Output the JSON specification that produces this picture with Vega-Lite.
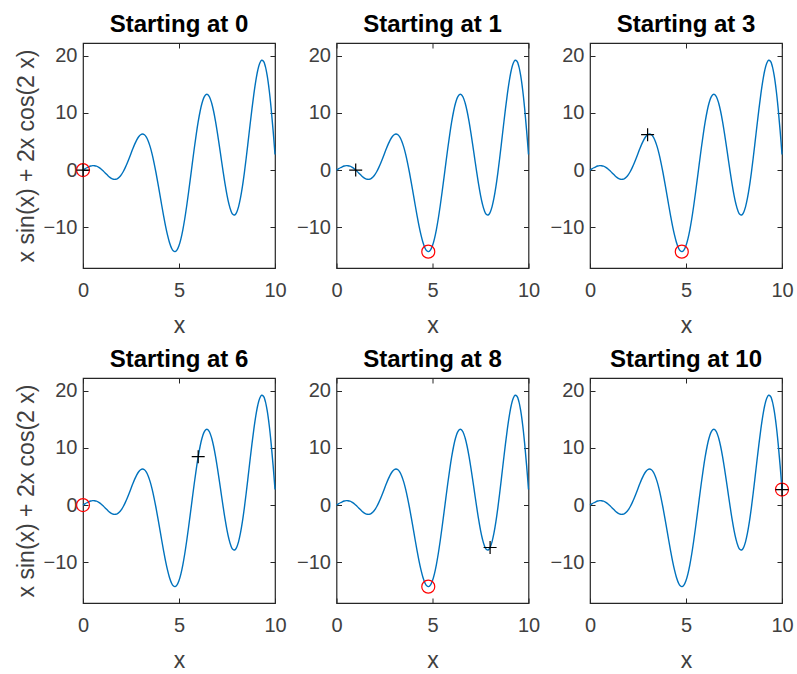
{
  "$schema": "https://vega.github.io/schema/vega-lite/v6.json",
  "padding": {"left": 14, "top": 11, "right": 5, "bottom": 5},
  "background": "white",
  "datasets": {
    "curve": [
      {"x":0,"y":0},{"x":0.1,"y":0.21},{"x":0.2,"y":0.41},{"x":0.3,"y":0.58},{"x":0.4,"y":0.71},{"x":0.5,"y":0.78},{"x":0.6,"y":0.77},{"x":0.7,"y":0.69},{"x":0.8,"y":0.53},{"x":0.9,"y":0.30},
      {"x":1.0,"y":0.01},{"x":1.1,"y":-0.31},{"x":1.2,"y":-0.65},{"x":1.3,"y":-0.98},{"x":1.4,"y":-1.26},{"x":1.5,"y":-1.47},{"x":1.6,"y":-1.60},{"x":1.7,"y":-1.60},{"x":1.8,"y":-1.48},{"x":1.9,"y":-1.21},
      {"x":2.0,"y":-0.80},{"x":2.1,"y":-0.25},{"x":2.2,"y":0.43},{"x":2.3,"y":1.20},{"x":2.4,"y":2.04},{"x":2.5,"y":2.91},{"x":2.6,"y":3.78},{"x":2.7,"y":4.58},{"x":2.8,"y":5.28},{"x":2.9,"y":5.83},
      {"x":3.0,"y":6.18},{"x":3.1,"y":6.31},{"x":3.2,"y":6.17},{"x":3.3,"y":5.75},{"x":3.4,"y":5.04},{"x":3.5,"y":4.05},{"x":3.6,"y":2.79},{"x":3.7,"y":1.28},{"x":3.8,"y":-0.42},{"x":3.9,"y":-2.26},
      {"x":4.0,"y":-4.19},{"x":4.1,"y":-6.14},{"x":4.2,"y":-8.02},{"x":4.3,"y":-9.78},{"x":4.4,"y":-11.32},{"x":4.5,"y":-12.60},{"x":4.6,"y":-13.54},{"x":4.7,"y":-14.10},{"x":4.8,"y":-14.23},{"x":4.9,"y":-13.93},
      {"x":5.0,"y":-13.19},{"x":5.1,"y":-12.01},{"x":5.2,"y":-10.43},{"x":5.3,"y":-8.50},{"x":5.4,"y":-6.27},{"x":5.5,"y":-3.83},{"x":5.6,"y":-1.26},{"x":5.7,"y":1.35},{"x":5.8,"y":3.90},{"x":5.9,"y":6.30},
      {"x":6.0,"y":8.45},{"x":6.1,"y":10.28},{"x":6.2,"y":11.71},{"x":6.3,"y":12.70},{"x":6.4,"y":13.20},{"x":6.5,"y":13.20},{"x":6.6,"y":12.69},{"x":6.7,"y":11.72},{"x":6.8,"y":10.32},{"x":6.9,"y":8.56},
      {"x":7.0,"y":6.51},{"x":7.1,"y":4.28},{"x":7.2,"y":1.97},{"x":7.3,"y":-0.31},{"x":7.4,"y":-2.46},{"x":7.5,"y":-4.36},{"x":7.6,"y":-5.92},{"x":7.7,"y":-7.07},{"x":7.8,"y":-7.72},{"x":7.9,"y":-7.84},
      {"x":8.0,"y":-7.41},{"x":8.1,"y":-6.42},{"x":8.2,"y":-4.91},{"x":8.3,"y":-2.93},{"x":8.4,"y":-0.56},{"x":8.5,"y":2.11},{"x":8.6,"y":4.96},{"x":8.7,"y":7.87},{"x":8.8,"y":10.70},{"x":8.9,"y":13.32},
      {"x":9.0,"y":15.59},{"x":9.1,"y":17.40},{"x":9.2,"y":18.62},{"x":9.3,"y":19.18},{"x":9.4,"y":19.01},{"x":9.5,"y":18.07},{"x":9.6,"y":16.36},{"x":9.7,"y":13.90},{"x":9.8,"y":10.74},{"x":9.9,"y":6.98},
      {"x":10.0,"y":2.72}
    ]
  },
  "columns": 3,
  "spacing": {"row": 110, "column": 61.5},
  "bounds": "flush",
  "concat": [
    {
      "width": 192, "height": 225,
      "title": {"text": "Starting at 0"},
      "layer": [
        {"data": {"name": "curve"}, "mark": {"type": "line", "color": "#0072BD", "strokeWidth": 1.4, "interpolate": "catmull-rom"},
         "encoding": {"x": {"field": "x", "type": "quantitative", "scale": {"domain": [0, 10], "nice": false, "zero": false}, "axis": {"orient": "bottom", "values": [0, 5, 10], "title": "x"}},
                      "y": {"field": "y", "type": "quantitative", "scale": {"domain": [-17.1, 22.2], "nice": false, "zero": false}, "axis": {"orient": "left", "values": [-10, 0, 10, 20], "title": "x sin(x) + 2x cos(2 x)"}}}},
        {"data": {"values": [{"x": 0, "y": 0}]}, "mark": {"type": "point", "shape": "circle", "size": 169, "color": "#FF0000", "strokeWidth": 1.2, "filled": false, "opacity": 1},
         "encoding": {"x": {"field": "x", "type": "quantitative", "scale": {"domain": [0, 10], "nice": false, "zero": false}, "axis": {"orient": "top", "values": [0, 5, 10], "labels": false, "title": null}},
                      "y": {"field": "y", "type": "quantitative", "scale": {"domain": [-17.1, 22.2], "nice": false, "zero": false}, "axis": {"orient": "right", "values": [-10, 0, 10, 20], "labels": false, "title": null}}}},
        {"data": {"values": [{"x": 0, "y": 0}]}, "mark": {"type": "point", "shape": "M-1,0L1,0M0,-1L0,1", "size": 169, "color": "#000000", "strokeWidth": 1.2, "filled": false, "opacity": 1},
         "encoding": {"x": {"field": "x", "type": "quantitative", "scale": {"domain": [0, 10], "nice": false, "zero": false}, "axis": null},
                      "y": {"field": "y", "type": "quantitative", "scale": {"domain": [-17.1, 22.2], "nice": false, "zero": false}, "axis": null}}}
      ],
      "resolve": {"axis": {"x": "independent", "y": "independent"}}
    },
    {
      "width": 192, "height": 225,
      "title": {"text": "Starting at 1"},
      "layer": [
        {"data": {"name": "curve"}, "mark": {"type": "line", "color": "#0072BD", "strokeWidth": 1.4, "interpolate": "catmull-rom"},
         "encoding": {"x": {"field": "x", "type": "quantitative", "scale": {"domain": [0, 10], "nice": false, "zero": false}, "axis": {"orient": "bottom", "values": [0, 5, 10], "title": "x"}},
                      "y": {"field": "y", "type": "quantitative", "scale": {"domain": [-17.1, 22.2], "nice": false, "zero": false}, "axis": {"orient": "left", "values": [-10, 0, 10, 20], "title": null}}}},
        {"data": {"values": [{"x": 4.78, "y": -14.24}]}, "mark": {"type": "point", "shape": "circle", "size": 169, "color": "#FF0000", "strokeWidth": 1.2, "filled": false, "opacity": 1},
         "encoding": {"x": {"field": "x", "type": "quantitative", "scale": {"domain": [0, 10], "nice": false, "zero": false}, "axis": {"orient": "top", "values": [0, 5, 10], "labels": false, "title": null}},
                      "y": {"field": "y", "type": "quantitative", "scale": {"domain": [-17.1, 22.2], "nice": false, "zero": false}, "axis": {"orient": "right", "values": [-10, 0, 10, 20], "labels": false, "title": null}}}},
        {"data": {"values": [{"x": 1, "y": 0.01}]}, "mark": {"type": "point", "shape": "M-1,0L1,0M0,-1L0,1", "size": 169, "color": "#000000", "strokeWidth": 1.2, "filled": false, "opacity": 1},
         "encoding": {"x": {"field": "x", "type": "quantitative", "scale": {"domain": [0, 10], "nice": false, "zero": false}, "axis": null},
                      "y": {"field": "y", "type": "quantitative", "scale": {"domain": [-17.1, 22.2], "nice": false, "zero": false}, "axis": null}}}
      ],
      "resolve": {"axis": {"x": "independent", "y": "independent"}}
    },
    {
      "width": 192, "height": 225,
      "title": {"text": "Starting at 3"},
      "layer": [
        {"data": {"name": "curve"}, "mark": {"type": "line", "color": "#0072BD", "strokeWidth": 1.4, "interpolate": "catmull-rom"},
         "encoding": {"x": {"field": "x", "type": "quantitative", "scale": {"domain": [0, 10], "nice": false, "zero": false}, "axis": {"orient": "bottom", "values": [0, 5, 10], "title": "x"}},
                      "y": {"field": "y", "type": "quantitative", "scale": {"domain": [-17.1, 22.2], "nice": false, "zero": false}, "axis": {"orient": "left", "values": [-10, 0, 10, 20], "title": null}}}},
        {"data": {"values": [{"x": 4.78, "y": -14.24}]}, "mark": {"type": "point", "shape": "circle", "size": 169, "color": "#FF0000", "strokeWidth": 1.2, "filled": false, "opacity": 1},
         "encoding": {"x": {"field": "x", "type": "quantitative", "scale": {"domain": [0, 10], "nice": false, "zero": false}, "axis": {"orient": "top", "values": [0, 5, 10], "labels": false, "title": null}},
                      "y": {"field": "y", "type": "quantitative", "scale": {"domain": [-17.1, 22.2], "nice": false, "zero": false}, "axis": {"orient": "right", "values": [-10, 0, 10, 20], "labels": false, "title": null}}}},
        {"data": {"values": [{"x": 3, "y": 6.18}]}, "mark": {"type": "point", "shape": "M-1,0L1,0M0,-1L0,1", "size": 169, "color": "#000000", "strokeWidth": 1.2, "filled": false, "opacity": 1},
         "encoding": {"x": {"field": "x", "type": "quantitative", "scale": {"domain": [0, 10], "nice": false, "zero": false}, "axis": null},
                      "y": {"field": "y", "type": "quantitative", "scale": {"domain": [-17.1, 22.2], "nice": false, "zero": false}, "axis": null}}}
      ],
      "resolve": {"axis": {"x": "independent", "y": "independent"}}
    },
    {
      "width": 192, "height": 225,
      "title": {"text": "Starting at 6"},
      "layer": [
        {"data": {"name": "curve"}, "mark": {"type": "line", "color": "#0072BD", "strokeWidth": 1.4, "interpolate": "catmull-rom"},
         "encoding": {"x": {"field": "x", "type": "quantitative", "scale": {"domain": [0, 10], "nice": false, "zero": false}, "axis": {"orient": "bottom", "values": [0, 5, 10], "title": "x"}},
                      "y": {"field": "y", "type": "quantitative", "scale": {"domain": [-17.1, 22.2], "nice": false, "zero": false}, "axis": {"orient": "left", "values": [-10, 0, 10, 20], "title": "x sin(x) + 2x cos(2 x)"}}}},
        {"data": {"values": [{"x": 0, "y": 0}]}, "mark": {"type": "point", "shape": "circle", "size": 169, "color": "#FF0000", "strokeWidth": 1.2, "filled": false, "opacity": 1},
         "encoding": {"x": {"field": "x", "type": "quantitative", "scale": {"domain": [0, 10], "nice": false, "zero": false}, "axis": {"orient": "top", "values": [0, 5, 10], "labels": false, "title": null}},
                      "y": {"field": "y", "type": "quantitative", "scale": {"domain": [-17.1, 22.2], "nice": false, "zero": false}, "axis": {"orient": "right", "values": [-10, 0, 10, 20], "labels": false, "title": null}}}},
        {"data": {"values": [{"x": 6, "y": 8.45}]}, "mark": {"type": "point", "shape": "M-1,0L1,0M0,-1L0,1", "size": 169, "color": "#000000", "strokeWidth": 1.2, "filled": false, "opacity": 1},
         "encoding": {"x": {"field": "x", "type": "quantitative", "scale": {"domain": [0, 10], "nice": false, "zero": false}, "axis": null},
                      "y": {"field": "y", "type": "quantitative", "scale": {"domain": [-17.1, 22.2], "nice": false, "zero": false}, "axis": null}}}
      ],
      "resolve": {"axis": {"x": "independent", "y": "independent"}}
    },
    {
      "width": 192, "height": 225,
      "title": {"text": "Starting at 8"},
      "layer": [
        {"data": {"name": "curve"}, "mark": {"type": "line", "color": "#0072BD", "strokeWidth": 1.4, "interpolate": "catmull-rom"},
         "encoding": {"x": {"field": "x", "type": "quantitative", "scale": {"domain": [0, 10], "nice": false, "zero": false}, "axis": {"orient": "bottom", "values": [0, 5, 10], "title": "x"}},
                      "y": {"field": "y", "type": "quantitative", "scale": {"domain": [-17.1, 22.2], "nice": false, "zero": false}, "axis": {"orient": "left", "values": [-10, 0, 10, 20], "title": null}}}},
        {"data": {"values": [{"x": 4.78, "y": -14.24}]}, "mark": {"type": "point", "shape": "circle", "size": 169, "color": "#FF0000", "strokeWidth": 1.2, "filled": false, "opacity": 1},
         "encoding": {"x": {"field": "x", "type": "quantitative", "scale": {"domain": [0, 10], "nice": false, "zero": false}, "axis": {"orient": "top", "values": [0, 5, 10], "labels": false, "title": null}},
                      "y": {"field": "y", "type": "quantitative", "scale": {"domain": [-17.1, 22.2], "nice": false, "zero": false}, "axis": {"orient": "right", "values": [-10, 0, 10, 20], "labels": false, "title": null}}}},
        {"data": {"values": [{"x": 8, "y": -7.41}]}, "mark": {"type": "point", "shape": "M-1,0L1,0M0,-1L0,1", "size": 169, "color": "#000000", "strokeWidth": 1.2, "filled": false, "opacity": 1},
         "encoding": {"x": {"field": "x", "type": "quantitative", "scale": {"domain": [0, 10], "nice": false, "zero": false}, "axis": null},
                      "y": {"field": "y", "type": "quantitative", "scale": {"domain": [-17.1, 22.2], "nice": false, "zero": false}, "axis": null}}}
      ],
      "resolve": {"axis": {"x": "independent", "y": "independent"}}
    },
    {
      "width": 192, "height": 225,
      "title": {"text": "Starting at 10"},
      "layer": [
        {"data": {"name": "curve"}, "mark": {"type": "line", "color": "#0072BD", "strokeWidth": 1.4, "interpolate": "catmull-rom"},
         "encoding": {"x": {"field": "x", "type": "quantitative", "scale": {"domain": [0, 10], "nice": false, "zero": false}, "axis": {"orient": "bottom", "values": [0, 5, 10], "title": "x"}},
                      "y": {"field": "y", "type": "quantitative", "scale": {"domain": [-17.1, 22.2], "nice": false, "zero": false}, "axis": {"orient": "left", "values": [-10, 0, 10, 20], "title": null}}}},
        {"data": {"values": [{"x": 10, "y": 2.72}]}, "mark": {"type": "point", "shape": "circle", "size": 169, "color": "#FF0000", "strokeWidth": 1.2, "filled": false, "opacity": 1},
         "encoding": {"x": {"field": "x", "type": "quantitative", "scale": {"domain": [0, 10], "nice": false, "zero": false}, "axis": {"orient": "top", "values": [0, 5, 10], "labels": false, "title": null}},
                      "y": {"field": "y", "type": "quantitative", "scale": {"domain": [-17.1, 22.2], "nice": false, "zero": false}, "axis": {"orient": "right", "values": [-10, 0, 10, 20], "labels": false, "title": null}}}},
        {"data": {"values": [{"x": 10, "y": 2.72}]}, "mark": {"type": "point", "shape": "M-1,0L1,0M0,-1L0,1", "size": 169, "color": "#000000", "strokeWidth": 1.2, "filled": false, "opacity": 1},
         "encoding": {"x": {"field": "x", "type": "quantitative", "scale": {"domain": [0, 10], "nice": false, "zero": false}, "axis": null},
                      "y": {"field": "y", "type": "quantitative", "scale": {"domain": [-17.1, 22.2], "nice": false, "zero": false}, "axis": null}}}
      ],
      "resolve": {"axis": {"x": "independent", "y": "independent"}}
    }
  ],
  "config": {
    "view": {"stroke": "#262626", "strokeWidth": 1.2},
    "axis": {"domain": false, "grid": false, "ticks": true, "tickSize": -5, "tickColor": "#262626", "tickWidth": 1,
             "labelFont": "Liberation Sans", "labelFontSize": 20, "labelColor": "#404040", "labelFlush": false, "labelOverlap": false,
             "titleFont": "Liberation Sans", "titleFontSize": 23, "titleFontWeight": "normal", "titleColor": "#404040"},
    "axisBottom": {"labelPadding": 17, "titlePadding": 14},
    "axisLeft": {"labelPadding": 11, "titlePadding": 5},
    "title": {"font": "Liberation Sans", "fontSize": 24, "fontWeight": "bold", "color": "#000000", "baseline": "alphabetic", "offset": 6, "anchor": "middle"}
  }
}
